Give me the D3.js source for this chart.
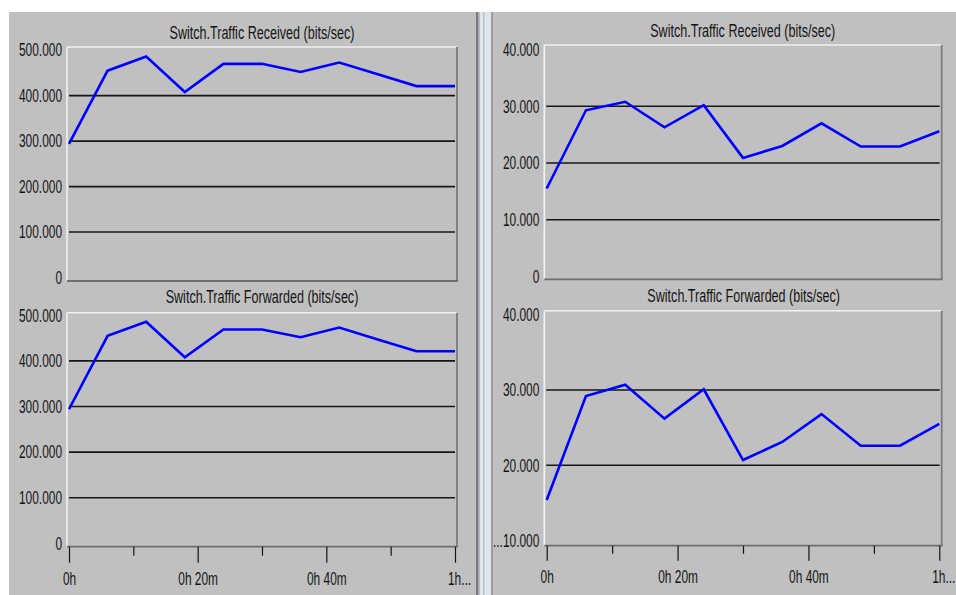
<!DOCTYPE html>
<html>
<head>
<meta charset="utf-8">
<script src="https://cdn.jsdelivr.net/npm/d3@7"></script>
<style>
  html, body { margin: 0; padding: 0; background: #ffffff; }
  svg { display: block; }
  text { font-family: "Liberation Sans", Arial, sans-serif; fill: #141414; }
</style>
</head>
<body>
<svg id="chart" width="956" height="595"></svg>
<script>
// Sample times (minutes) and the measured traffic series
const minutes = [0, 6, 12, 18, 24, 30, 36, 42, 48, 54, 60];
const receivedA  = [294000, 455000, 486000, 408000, 470000, 470000, 452000, 473000, 447000, 421000, 421000];
const forwardedA = [294000, 455000, 486000, 408000, 469000, 469000, 452000, 473000, 447000, 421000, 421000];
const receivedB  = [15500, 29300, 30800, 26300, 30200, 20900, 23000, 27000, 22900, 22900, 25600];
const forwardedB = [15400, 29200, 30700, 26200, 30100, 20700, 23100, 26800, 22600, 22600, 25500];

const titles = ["Switch.Traffic Received (bits/sec)", "Switch.Traffic Forwarded (bits/sec)"];
const yTicksA = [0, 100000, 200000, 300000, 400000, 500000];
const yTicksB = [0, 10000, 20000, 30000, 40000];
const yTicksC = [10000, 20000, 30000, 40000];
const yLabelsC = ["...10.000", "20.000", "30.000", "40.000"];
const xMajorTicks = [0, 20, 40, 60];
const xMinorTicks = [10, 30, 50];
const xTickLabels = ["0h", "0h 20m", "0h 40m", "1h..."];

const SX = 0.68;            // horizontal squeeze of the condensed UI font
const fmt = d3.formatLocale({ decimal: ",", thousands: ".", grouping: [3], currency: ["", ""] }).format(",");

const svg = d3.select("#chart");

// window background and the splitter between the two halves
svg.append("rect").attr("x", 9).attr("y", 12).attr("width", 947).attr("height", 583).attr("fill", "#c0c0c0");
const splitter = [
  { x: 476, w: 2.4, c: "#7a7a7a" },
  { x: 478.4, w: 1.4, c: "#a9afb5" },
  { x: 479.8, w: 3.6, c: "#dfe5ec" },
  { x: 483.4, w: 1.0, c: "#b0b8c0" },
  { x: 484.4, w: 6.9, c: "#dfe5ec" },
  { x: 491.3, w: 1.4, c: "#8a8a8a" }
];
svg.selectAll("rect.split").data(splitter).join("rect")
  .attr("class", "split")
  .attr("x", d => d.x).attr("y", 12).attr("width", d => d.w).attr("height", 583)
  .attr("fill", d => d.c);

const panels = [
  { title: titles[0], values: receivedA, ticks: yTicksA, labels: null, domain: [0, 500000],
    box: { x0: 67, x1: 457, y0: 47, y1: 281 }, yRange: [277.5, 50.2], xRange: [69, 455],
    titleX: 262, titleY: 38.5, labelX: 62, xAxis: false },
  { title: titles[1], values: forwardedA, ticks: yTicksA, labels: null, domain: [0, 500000],
    box: { x0: 67, x1: 457, y0: 312.7, y1: 546.7 }, yRange: [543.3, 315.3], xRange: [69, 455],
    titleX: 262, titleY: 303, labelX: 62, xAxis: true, tickLen: 16, minorLen: 9, xLabelDy: 38.3 },
  { title: titles[0], values: receivedB, ticks: yTicksB, labels: null, domain: [0, 40000],
    box: { x0: 544.3, x1: 941.7, y0: 45, y1: 279.3 }, yRange: [276.4, 49.6], xRange: [546.7, 939.3],
    titleX: 742.7, titleY: 36.7, labelX: 539.3, xAxis: false },
  { title: titles[1], values: forwardedB, ticks: yTicksC, labels: yLabelsC, domain: [10000, 40000],
    box: { x0: 544.3, x1: 941.7, y0: 310.7, y1: 545.7 }, yRange: [540.6, 314.7], xRange: [546.7, 939.3],
    titleX: 743.7, titleY: 302.3, labelX: 539.3, xAxis: true, tickLen: 15, minorLen: 8, xLabelDy: 37.6 }
];

panels.forEach(p => {
  const g = svg.append("g");
  const x = d3.scaleLinear().domain([0, 60]).range(p.xRange);
  const y = d3.scaleLinear().domain(p.domain).range(p.yRange);
  const b = p.box;

  // title
  g.append("text")
    .attr("transform", `translate(${p.titleX},${p.titleY}) scale(${SX},1)`)
    .attr("text-anchor", "middle")
    .style("font-size", "18.5px")
    .text(p.title);

  // plot frame: light top/left edge, dark bottom/right edge
  g.append("line").attr("x1", b.x0).attr("x2", b.x1).attr("y1", b.y0).attr("y2", b.y0)
    .attr("stroke", "#f2f2f2").attr("stroke-width", 1.6);
  g.append("line").attr("x1", b.x0).attr("x2", b.x0).attr("y1", b.y0).attr("y2", b.y1)
    .attr("stroke", "#f2f2f2").attr("stroke-width", 1.6);
  g.append("line").attr("x1", b.x1).attr("x2", b.x1).attr("y1", b.y0).attr("y2", b.y1)
    .attr("stroke", "#7c7c7c").attr("stroke-width", 1.8);
  g.append("line").attr("x1", b.x0).attr("x2", b.x1 + 0.9).attr("y1", b.y1).attr("y2", b.y1)
    .attr("stroke", "#6e6e6e").attr("stroke-width", 1.8);

  // horizontal grid lines at interior ticks
  const inner = p.ticks.filter(t => t > p.domain[0] && t < p.domain[1]);
  g.selectAll("line.grid").data(inner).join("line")
    .attr("class", "grid")
    .attr("x1", b.x0 + 2).attr("x2", b.x1 - 2)
    .attr("y1", d => y(d)).attr("y2", d => y(d))
    .attr("stroke", "#161616").attr("stroke-width", 1.6);

  // y tick labels
  g.selectAll("text.ylab").data(p.ticks).join("text")
    .attr("class", "ylab")
    .attr("transform", d => `translate(${p.labelX},${y(d) + 6.2}) scale(${SX},1)`)
    .attr("text-anchor", "end")
    .style("font-size", "17.5px")
    .text((d, i) => p.labels ? p.labels[i] : fmt(d));

  // data line
  const line = d3.line().x((d, i) => x(minutes[i])).y(d => y(d));
  g.append("path").datum(p.values)
    .attr("d", line)
    .attr("fill", "none")
    .attr("stroke", "#0000ff")
    .attr("stroke-width", 2.6);

  // time axis
  if (p.xAxis) {
    const major = d3.axisBottom(x).tickValues(xMajorTicks).tickSize(p.tickLen)
      .tickFormat((d, i) => xTickLabels[i]);
    const ga = g.append("g").attr("transform", `translate(0,${b.y1})`).call(major);
    ga.select(".domain").remove();
    ga.selectAll(".tick line").attr("stroke", "#141414").attr("stroke-width", 1.2);
    ga.selectAll(".tick text")
      .attr("y", p.xLabelDy).attr("dy", null)
      .attr("x", (d, i) => i === xMajorTicks.length - 1 ? 4 / SX : 0)
      .attr("transform", `scale(${SX},1)`)
      .attr("fill", "#141414")
      .style("font-size", "17.5px")
      .style("font-family", "'Liberation Sans', Arial, sans-serif");

    const minor = d3.axisBottom(x).tickValues(xMinorTicks).tickSize(p.minorLen).tickFormat("");
    const gm = g.append("g").attr("transform", `translate(0,${b.y1})`).call(minor);
    gm.select(".domain").remove();
    gm.selectAll(".tick line").attr("stroke", "#141414").attr("stroke-width", 1.2);
  }
});
</script>
</body>
</html>
